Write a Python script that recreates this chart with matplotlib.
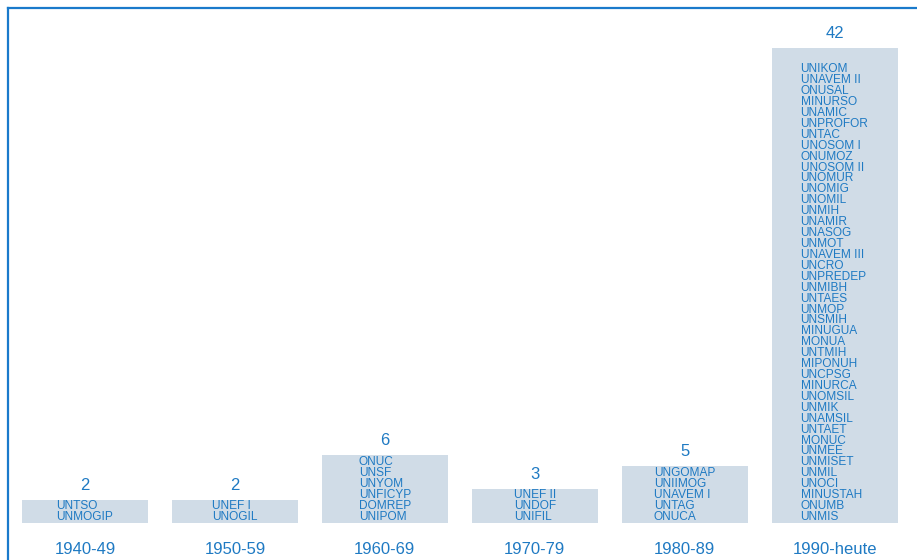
import matplotlib
matplotlib.use("Agg")
import matplotlib.pyplot as plt

categories = ["1940-49", "1950-59", "1960-69", "1970-79", "1980-89", "1990-heute"]
missions = [
    ["UNTSO", "UNMOGIP"],
    ["UNEF I", "UNOGIL"],
    ["ONUC", "UNSF", "UNYOM", "UNFICYP", "DOMREP", "UNIPOM"],
    ["UNEF II", "UNDOF", "UNIFIL"],
    ["UNGOMAP", "UNIIMOG", "UNAVEM I", "UNTAG", "ONUCA"],
    ["UNIKOM", "UNAVEM II", "ONUSAL", "MINURSO", "UNAMIC", "UNPROFOR", "UNTAC",
     "UNOSOM I", "ONUMOZ", "UNOSOM II", "UNOMUR", "UNOMIG", "UNOMIL", "UNMIH",
     "UNAMIR", "UNASOG", "UNMOT", "UNAVEM III", "UNCRO", "UNPREDEP", "UNMIBH",
     "UNTAES", "UNMOP", "UNSMIH", "MINUGUA", "MONUA", "UNTMIH", "MIPONUH",
     "UNCPSG", "MINURCA", "UNOMSIL", "UNMIK", "UNAMSIL", "UNTAET", "MONUC",
     "UNMEE", "UNMISET", "UNMIL", "UNOCI", "MINUSTAH", "ONUMB", "UNMIS"],
]
counts = [2, 2, 6, 3, 5, 42]

TEXT = "#1f7ac3"
BAR = "#d0dce7"
SPINE = "#1a7acb"

plt.rcParams['font.family'] = ['Liberation Sans', 'DejaVu Sans']

W, H = 917, 560
PX = 11.31  # pixels per unit
fig = plt.figure(figsize=(W / 100, H / 100), dpi=100)
ax = fig.add_axes([8 / W, 0, 909 / W, 552 / H])

x = list(range(len(categories)))
ax.bar(x, counts, width=0.84, color=BAR, edgecolor='none')

ax.set_xlim(-0.514, 5.55)
ax.set_ylim(-37 / PX, 515 / PX)

for i, (cat, c, names) in enumerate(zip(categories, counts, missions)):
    ax.annotate(str(c), xy=(i, c), xytext=(0, 10), textcoords='offset pixels',
                ha='center', va='baseline', fontsize=12, color=TEXT)
    ax.annotate(cat, xy=(i, 0), xytext=(0, -31), textcoords='offset pixels',
                ha='center', va='baseline', fontsize=12, color=TEXT,
                annotation_clip=False)
    ax.annotate("\n".join(names), xy=(i, 0), xytext=(0, 3), textcoords='offset pixels',
                ha='center', va='baseline', multialignment='left',
                fontsize=8.6, color=TEXT, linespacing=0.88)

for s in ['right', 'bottom']:
    ax.spines[s].set_visible(False)
for s in ['left', 'top']:
    ax.spines[s].set_color(SPINE)
    ax.spines[s].set_linewidth(1.6)
ax.set_xticks([])
ax.set_yticks([])

fig.savefig("out.png", dpi=100)
